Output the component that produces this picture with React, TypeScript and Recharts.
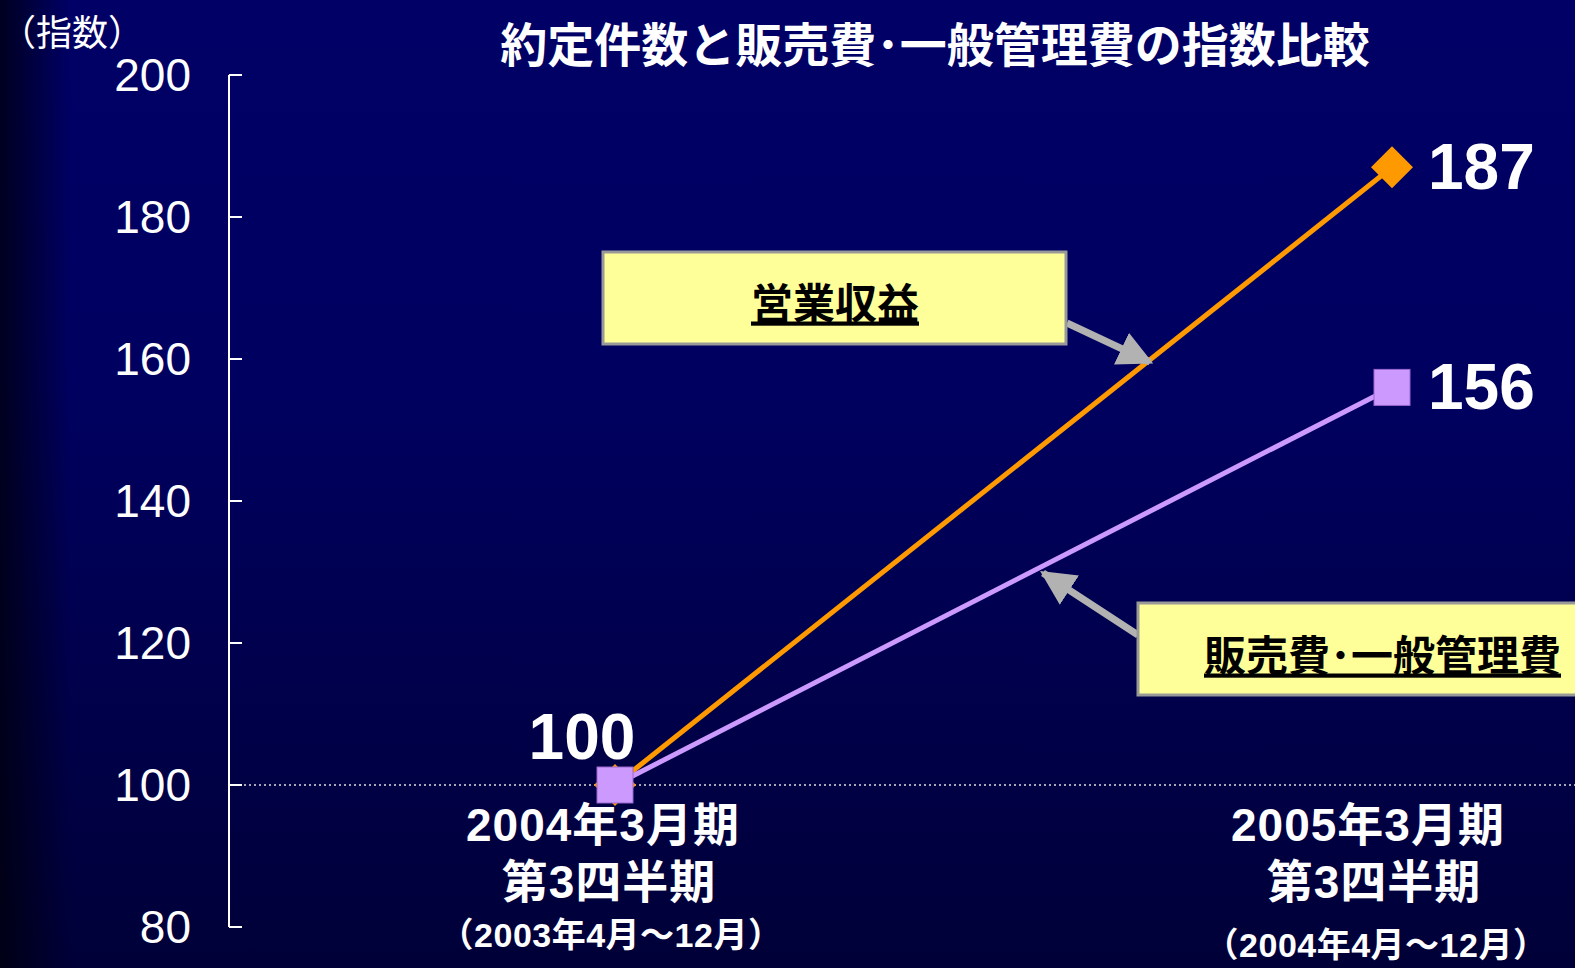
import React from 'react';
import { LineChart, Line, XAxis, YAxis, ReferenceLine, LabelList } from 'recharts';

// periods on the x axis (three lines per tick)
const periods = ['2004年3月期', '2005年3月期'];
const quarters = ['第3四半期', '第3四半期'];
const ranges = ['（2003年4月～12月）', '（2004年4月～12月）'];

// index values (2004年3月期 第3四半期 = 100)
const revenueIndex = [100, 187];
const sgaIndex = [100, 156];

const yTicks = [80, 100, 120, 140, 160, 180, 200];

const data = periods.map((p, i) => ({
  period: p,
  revenue: revenueIndex[i],
  sga: sgaIndex[i],
}));

const W = 1575;
const H = 968;
const LATIN = '"Liberation Sans", Arial, "Noto Sans CJK JP", sans-serif';
const CJK = '"Noto Sans CJK JP", "Liberation Sans", sans-serif';

const YTick = (props: any) => {
  const { x, y, payload } = props;
  return (
    <g>
      <line x1={x} y1={y} x2={x + 13} y2={y} stroke="#fff" strokeWidth={2} />
      <text x={x - 38} y={y} textAnchor="end" dominantBaseline="central" fill="#fff" fontSize={46} fontFamily={LATIN}>
        {payload.value}
      </text>
    </g>
  );
};

const XTick = (props: any) => {
  const { x, y, index } = props;
  const cx = x - (index === 0 ? 12 : 24);
  return (
    <g fill="#fff" fontFamily={LATIN} fontWeight="bold" textAnchor="middle">
      <text x={cx} y={y - 102} dominantBaseline="central" fontSize={46} letterSpacing={1}>{periods[index]}</text>
      <text x={cx + 6} y={y - 45} dominantBaseline="central" fontSize={46} letterSpacing={1}>{quarters[index]}</text>
      <text x={cx + 8} y={y + 8 + index * 10} dominantBaseline="central" fontSize={34} letterSpacing={0.5}>{ranges[index]}</text>
    </g>
  );
};

const Diamond = (props: any) => {
  const { cx, cy } = props;
  const r = 21;
  return <polygon points={`${cx},${cy - r} ${cx + r},${cy} ${cx},${cy + r} ${cx - r},${cy}`} fill="#FF9900" />;
};

const Square = (props: any) => {
  const { cx, cy } = props;
  const s = 36;
  return <rect x={cx - s / 2} y={cy - s / 2} width={s} height={s} fill="#CC99FF" stroke="#9966CC" strokeWidth={1} />;
};

const endLabel = (props: any) => {
  const { x, y, value, index } = props;
  if (index === 0) {
    return (
      <text x={x - 33} y={y - 48} textAnchor="middle" dominantBaseline="central" fill="#fff" fontSize={64} fontWeight="bold" fontFamily={LATIN}>
        {value}
      </text>
    );
  }
  return (
    <text x={x + 36} y={y} textAnchor="start" dominantBaseline="central" fill="#fff" fontSize={64} fontWeight="bold" fontFamily={LATIN}>
      {value}
    </text>
  );
};

const revLabel = (props: any) => (props.index === 1 ? endLabel(props) : null);

export default function App() {
  return (
    <div
      style={{
        position: 'fixed',
        left: 0,
        top: 0,
        width: W,
        height: H,
        overflow: 'hidden',
        background:
          'linear-gradient(to right, rgba(0,0,10,0.75) 0px, rgba(0,0,10,0) 70px), linear-gradient(to bottom, #000066 0%, #000060 40%, #000038 100%)',
      }}
    >
      <LineChart width={W} height={H} data={data} margin={{ top: 75, right: 0, bottom: 0, left: 0 }}>
        <XAxis
          dataKey="period"
          padding={{ left: 386, right: 183 }}
          axisLine={false}
          tickLine={false}
          tickSize={0}
          tickMargin={0}
          height={41}
          interval={0}
          tick={<XTick />}
        />
        <YAxis
          domain={[80, 200]}
          ticks={yTicks}
          width={229}
          axisLine={{ stroke: '#fff', strokeWidth: 2 }}
          tickLine={false}
          tickSize={0}
          tickMargin={0}
          interval={0}
          tick={<YTick />}
        />
        <ReferenceLine y={100} stroke="#ddd" strokeWidth={1.5} strokeDasharray="2 3" />
        <Line
          dataKey="revenue"
          stroke="#FF9900"
          strokeWidth={5}
          dot={<Diamond />}
          activeDot={false}
          isAnimationActive={false}
        >
          <LabelList dataKey="revenue" content={revLabel} />
        </Line>
        <Line
          dataKey="sga"
          stroke="#CC99FF"
          strokeWidth={5}
          dot={<Square />}
          activeDot={false}
          isAnimationActive={false}
        >
          <LabelList dataKey="sga" content={endLabel} />
        </Line>
      </LineChart>

      <svg width={W} height={H} style={{ position: 'absolute', left: 0, top: 0, pointerEvents: 'none' }}>
        <defs>
          <marker id="arrowHead" viewBox="0 0 10 10" refX="9" refY="5" markerWidth="5" markerHeight="5" orient="auto" markerUnits="strokeWidth">
            <path d="M0,0 L10,5 L0,10 z" fill="#B2B2B2" />
          </marker>
        </defs>
        <text x={0} y={30} dominantBaseline="central" fill="#fff" fontSize={36} fontFamily={CJK}>
          （指数）
        </text>
        <text x={935} y={41} textAnchor="middle" dominantBaseline="central" fill="#fff" fontSize={47} fontWeight="bold" fontFamily={CJK}>
          約定件数と販売費･一般管理費の指数比較
        </text>

        {/* 営業収益 call-out */}
        <line x1={1067} y1={323} x2={1150} y2={362} stroke="#B2B2B2" strokeWidth={7} markerEnd="url(#arrowHead)" />
        <rect x={603} y={252} width={463} height={92} fill="#FFFF99" stroke="#999" strokeWidth={3} />
        <text x={835} y={300} textAnchor="middle" dominantBaseline="central" fill="#000" fontSize={42} fontWeight="bold" fontFamily={CJK} style={{ textDecoration: 'underline' }}>
          営業収益
        </text>

        {/* 販売費・一般管理費 call-out */}
        <line x1={1138} y1={635} x2={1043} y2={573} stroke="#B2B2B2" strokeWidth={7} markerEnd="url(#arrowHead)" />
        <rect x={1138} y={603} width={480} height={92} fill="#FFFF99" stroke="#999" strokeWidth={3} />
        <text x={1204} y={652} textAnchor="start" dominantBaseline="central" fill="#000" fontSize={42} fontWeight="bold" fontFamily={CJK} style={{ textDecoration: 'underline' }}>
          販売費･一般管理費
        </text>
      </svg>
    </div>
  );
}
